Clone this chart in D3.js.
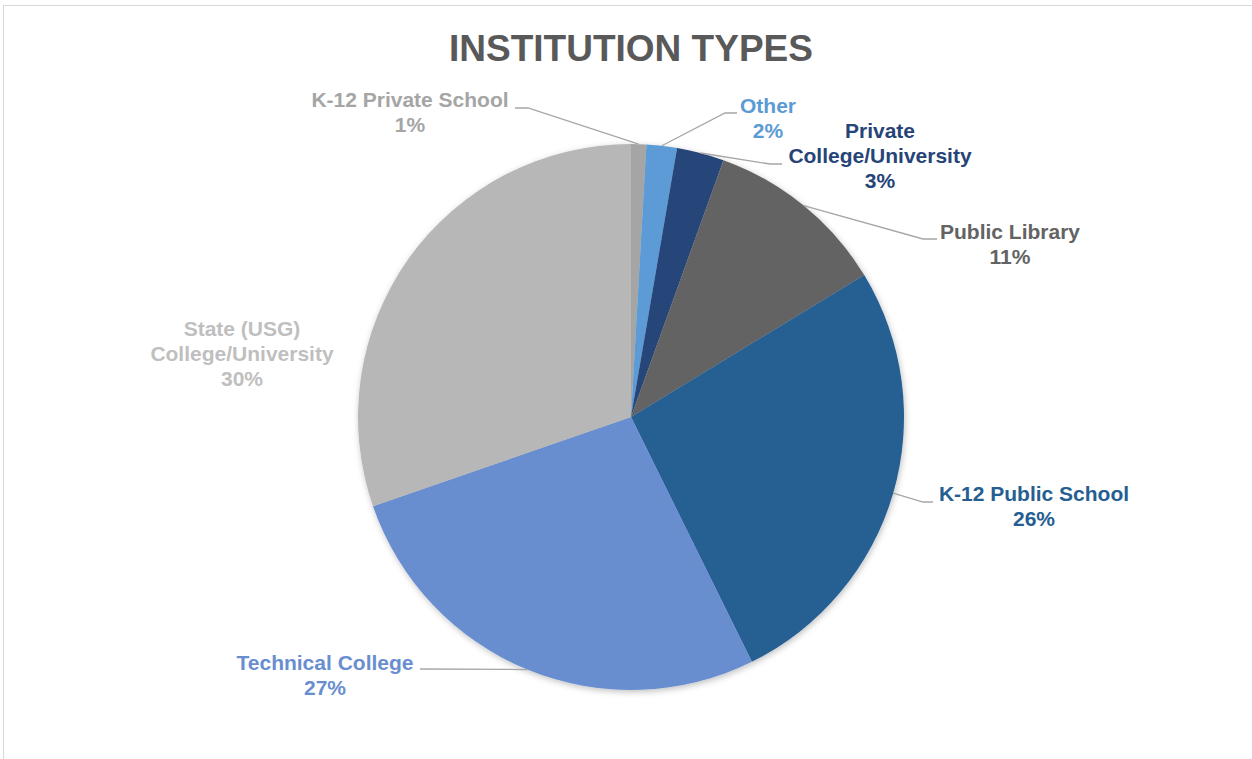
<!DOCTYPE html>
<html>
<head>
<meta charset="utf-8">
<script src="https://cdn.jsdelivr.net/npm/d3@7"></script>
<style>
  html, body { margin: 0; padding: 0; background: #fff; }
  svg { display: block; }
  text { font-family: "Liberation Sans", Arial, sans-serif; font-weight: bold; }
</style>
</head>
<body>
<svg id="chart" width="1252" height="759"></svg>
<script>
// ---- data ----
const title = "INSTITUTION TYPES";
const categories = [
  "K-12 Private School",
  "Other",
  "Private College/University",
  "Public Library",
  "K-12 Public School",
  "Technical College",
  "State (USG) College/University"
];
const values = [0.9, 1.8, 2.8, 10.8, 26.4, 27.0, 30.3];
const labelLines = [
  ["K-12 Private School"],
  ["Other"],
  ["Private", "College/University"],
  ["Public Library"],
  ["K-12 Public School"],
  ["Technical College"],
  ["State (USG)", "College/University"]
];

// ---- styling / layout ----
const colors = ["#a5a5a5", "#5b9bd5", "#264478", "#636363", "#255e91", "#698ed0", "#b7b7b7"];
const textColors = ["#a5a5a5", "#5b9bd5", "#264478", "#636363", "#255e91", "#698ed0", "#bfbfbf"];
const cx = 631, cy = 417, radius = 273;
// label anchor (center x, first baseline y) and leader elbow points
const labelPos = [
  { x: 410, y: 107, elbow: [[528, 108], [515, 108]] },
  { x: 768, y: 113, elbow: [[725, 113], [737, 113]] },
  { x: 880, y: 138, elbow: [[770, 164], [782, 164]] },
  { x: 1010, y: 239, elbow: [[923, 239], [937, 239]] },
  { x: 1034, y: 501, elbow: [[923, 502], [933, 502]] },
  { x: 325, y: 670, elbow: [[420, 669]] },
  { x: 242, y: 336, elbow: null }
];
const lineH = 25;

const svg = d3.select("#chart");

// frame
svg.append("rect")
  .attr("x", 3.5).attr("y", 5.5)
  .attr("width", 1260).attr("height", 770)
  .attr("fill", "#fff").attr("stroke", "#d9d9d9").attr("stroke-width", 1);

// shadow filter
const defs = svg.append("defs");
const f = defs.append("filter").attr("id", "shadow")
  .attr("x", "-10%").attr("y", "-10%").attr("width", "120%").attr("height", "120%");
f.append("feDropShadow")
  .attr("dx", 1).attr("dy", 2).attr("stdDeviation", 3)
  .attr("flood-color", "#000").attr("flood-opacity", 0.25);

// title
svg.append("text")
  .attr("x", 631).attr("y", 61)
  .attr("text-anchor", "middle")
  .attr("font-size", 37)
  .attr("fill", "#595959")
  .text(title);

const pie = d3.pie().sort(null).value(d => d)(values);
const arc = d3.arc().innerRadius(0).outerRadius(radius);

const g = svg.append("g").attr("transform", `translate(${cx},${cy})`);
g.append("g").attr("filter", "url(#shadow)")
  .selectAll("path").data(pie).join("path")
  .attr("d", arc)
  .attr("fill", (d, i) => colors[i]);

// leader lines
pie.forEach((d, i) => {
  const lp = labelPos[i];
  if (!lp.elbow) return;
  const mid = (d.startAngle + d.endAngle) / 2;
  const sx = cx + radius * Math.sin(mid);
  const sy = cy - radius * Math.cos(mid);
  const pts = [[sx, sy]].concat(lp.elbow);
  svg.append("path")
    .attr("d", d3.line()(pts))
    .attr("fill", "none")
    .attr("stroke", "#a6a6a6")
    .attr("stroke-width", 1.3);
});

// labels
pie.forEach((d, i) => {
  const lp = labelPos[i];
  const lines = labelLines[i].concat([Math.round(values[i]) + "%"]);
  const t = svg.append("text")
    .attr("text-anchor", "middle")
    .attr("font-size", 21)
    .attr("fill", textColors[i]);
  lines.forEach((s, k) => {
    t.append("tspan").attr("x", lp.x).attr("y", lp.y + k * lineH).text(s);
  });
});
</script>
</body>
</html>
